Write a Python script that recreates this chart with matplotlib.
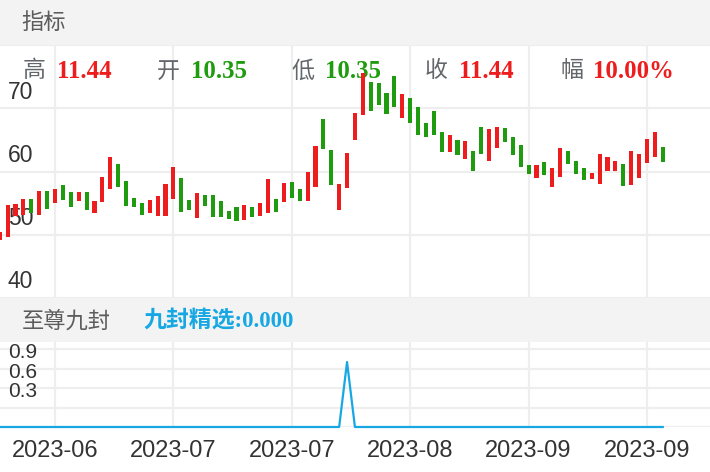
import matplotlib
matplotlib.use("Agg")
import matplotlib.pyplot as plt
import numpy as np

# ---------------- data ----------------
opens = [49.17, 49.64, 52.96, 53.12, 55.65, 53.12, 56.92, 54.97, 57.87, 56.81,
         55.38, 56.76, 53.49, 55.18, 57.19, 61.14, 58.45, 55.86, 55.07, 53.49,
         52.96, 52.92, 55.70, 58.97, 55.49, 52.70, 56.24, 56.28, 55.34, 53.75,
         54.34, 52.41, 54.43, 53.01, 53.39, 55.60, 55.13, 58.29, 57.28, 55.29,
         57.52, 68.30, 63.40, 53.91, 57.39, 64.98, 69.01, 74.15, 74.04, 72.46,
         75.10, 68.41, 71.57, 70.15, 67.62, 69.57, 66.20, 63.13, 64.98, 61.93,
         63.24, 66.96, 61.66, 63.67, 66.80, 65.41, 64.14, 61.03, 58.93, 61.50,
         57.60, 59.08, 63.21, 61.63, 60.51, 58.77, 58.10, 60.03, 60.11, 61.19,
         57.94, 58.93, 61.30, 62.24, 63.95]
closes = [50.48, 54.70, 54.86, 55.65, 53.44, 56.92, 54.07, 57.19, 55.49, 54.43,
          56.76, 53.91, 55.34, 59.13, 62.34, 57.55, 54.59, 54.43, 53.08, 55.49,
          56.13, 58.02, 60.66, 53.55, 53.87, 56.60, 54.50, 52.76, 52.85, 52.44,
          52.17, 54.70, 52.85, 55.02, 58.77, 53.64, 58.13, 55.86, 55.29, 59.92,
          64.08, 63.51, 57.87, 58.02, 62.85, 69.17, 75.62, 69.57, 70.51, 69.04,
          70.12, 72.25, 67.72, 65.74, 65.41, 65.72, 63.04, 65.72, 62.56, 64.87,
          60.08, 62.72, 66.72, 67.04, 64.66, 62.56, 60.76, 59.60, 61.08, 59.42,
          60.55, 63.72, 61.14, 59.56, 58.66, 59.76, 62.77, 62.29, 61.69, 57.71,
          63.24, 62.72, 65.17, 66.20, 61.55]
signal = [0.0] * 85
signal[44] = 1.0

main_ticks = [40, 50, 60, 70]
sub_ticks = [0.3, 0.6, 0.9]
sub_tick_labels = ["0.3", "0.6", "0.9"]
date_pos = [7, 22, 37, 52, 67, 82]
date_labels = ["2023-06", "2023-07", "2023-07", "2023-08", "2023-09", "2023-09"]

header_items = [("高", "11.44", "red"), ("开", "10.35", "green"),
                ("低", "10.35", "green"), ("收", "11.44", "red"),
                ("幅", "10.00%", "red")]

# ---------------- style ----------------
RED = "#EE1D1D"
GREEN = "#1E9B0E"
BLUE = "#17A8E3"
GRID = "#EEEEEE"
BAND = "#F3F3F3"
TXT = "#333333"
CJK_GRAY = "#63666B"
CJK = ["Noto Sans CJK SC", "DejaVu Sans"]
NUMF = ["Liberation Serif", "Noto Sans CJK SC"]
TICKF = ["Liberation Sans", "DejaVu Sans"]

W, H = 710, 472
fig = plt.figure(figsize=(W / 100, H / 100), dpi=100)
fig.patch.set_facecolor("white")


def fy(px):
    return 1 - px / H


def add_axes_px(top, bottom):
    return fig.add_axes([0, fy(bottom), 1, (bottom - top) / H])


XLIM = (0.032, 0.032 + 710 / 7.893)
n = len(opens)
idx = np.arange(n)

# background bands
band1 = fig.add_axes([0, fy(45), 1, 45 / H])
band1.set_facecolor(BAND)
band1.set_xticks([]); band1.set_yticks([])
for s in band1.spines.values():
    s.set_visible(False)
band1.text(21.7 / W, 0.5, "指标", transform=band1.transAxes, family=CJK,
           fontsize=16, color="#5C5C5C", va="center", ha="left")

band2 = fig.add_axes([0, fy(342), 1, 44 / H])
band2.set_facecolor(BAND)
band2.set_xticks([]); band2.set_yticks([])
for s in band2.spines.values():
    s.set_visible(False)
band2.text(21.7 / W, 0.47, "至尊九封", transform=band2.transAxes,
           family=CJK, fontsize=16, color="#5C5C5C", va="center", ha="left")
band2.text(143 / W, 0.47, "九封精选:0.000", transform=band2.transAxes,
           family=NUMF, fontsize=16.5, fontweight="bold", color=BLUE,
           va="center", ha="left")

# ---------------- main candle axes ----------------
ax = add_axes_px(45, 298)
ax.set_xlim(*XLIM)
ax.set_ylim(40, 80)
for s in ax.spines.values():
    s.set_visible(False)
ax.set_xticks(date_pos)
ax.set_yticks(main_ticks + [80])
ax.tick_params(length=0, labelleft=False, labelbottom=False)
ax.grid(True, color=GRID, linewidth=1.6, zorder=0)
ax.set_axisbelow(True)

o = np.array(opens); c = np.array(closes)
cols = [RED if cc >= oo else GREEN for oo, cc in zip(o, c)]
ax.bar(idx, np.abs(c - o), bottom=np.minimum(o, c), width=0.52,
       color=cols, linewidth=0, zorder=3)

for v in main_ticks:
    ax.annotate(str(v), xy=(0, v), xycoords=("axes fraction", "data"),
                xytext=(8, 16), textcoords="offset pixels", family=TICKF,
                fontsize=16.5, color=TXT, va="center", ha="left", zorder=2)

# header row
cjk_x = [23, 157, 291, 425, 560]
num_x = [57, 191, 325, 459, 593]
for (lab, val, col), xc, xn in zip(header_items, cjk_x, num_x):
    ax.text(xc / W, fy(71), lab, transform=fig.transFigure, family=CJK,
            fontsize=16.5, color=CJK_GRAY, va="center", ha="left", zorder=1)
    ax.text(xn / W, fy(72), val, transform=fig.transFigure, family=NUMF,
            fontsize=17.8, fontweight="bold", color=RED if col == "red" else GREEN,
            va="center", ha="left", zorder=1)

# ---------------- indicator axes ----------------
ax2 = add_axes_px(342, 427)
ax2.set_xlim(*XLIM)
ax2.set_ylim(0, 1.2 * 85 / 78)
for s in ax2.spines.values():
    s.set_visible(False)
ax2.set_xticks(date_pos)
ax2.set_xticklabels(date_labels, family=TICKF, fontsize=17, color=TXT)
ax2.set_yticks([0] + sub_ticks + [1.2])
ax2.tick_params(length=0, labelleft=False, pad=9.5)
ax2.grid(True, color=GRID, linewidth=1.6, zorder=0)
ax2.set_axisbelow(True)
ax2.plot(idx, signal, color=BLUE, linewidth=1.6, zorder=3, clip_on=False)
ax2.plot([XLIM[0], idx[0]], [signal[0], signal[0]], color=BLUE, linewidth=1.6,
         zorder=3)
for v, lab in zip(sub_ticks, sub_tick_labels):
    ax2.annotate(lab, xy=(0, v), xycoords=("axes fraction", "data"),
                 xytext=(8, 16), textcoords="offset pixels", family=TICKF,
                 fontsize=15, color=TXT, va="center", ha="left")

fig.savefig("out.png", dpi=100, facecolor="white")
